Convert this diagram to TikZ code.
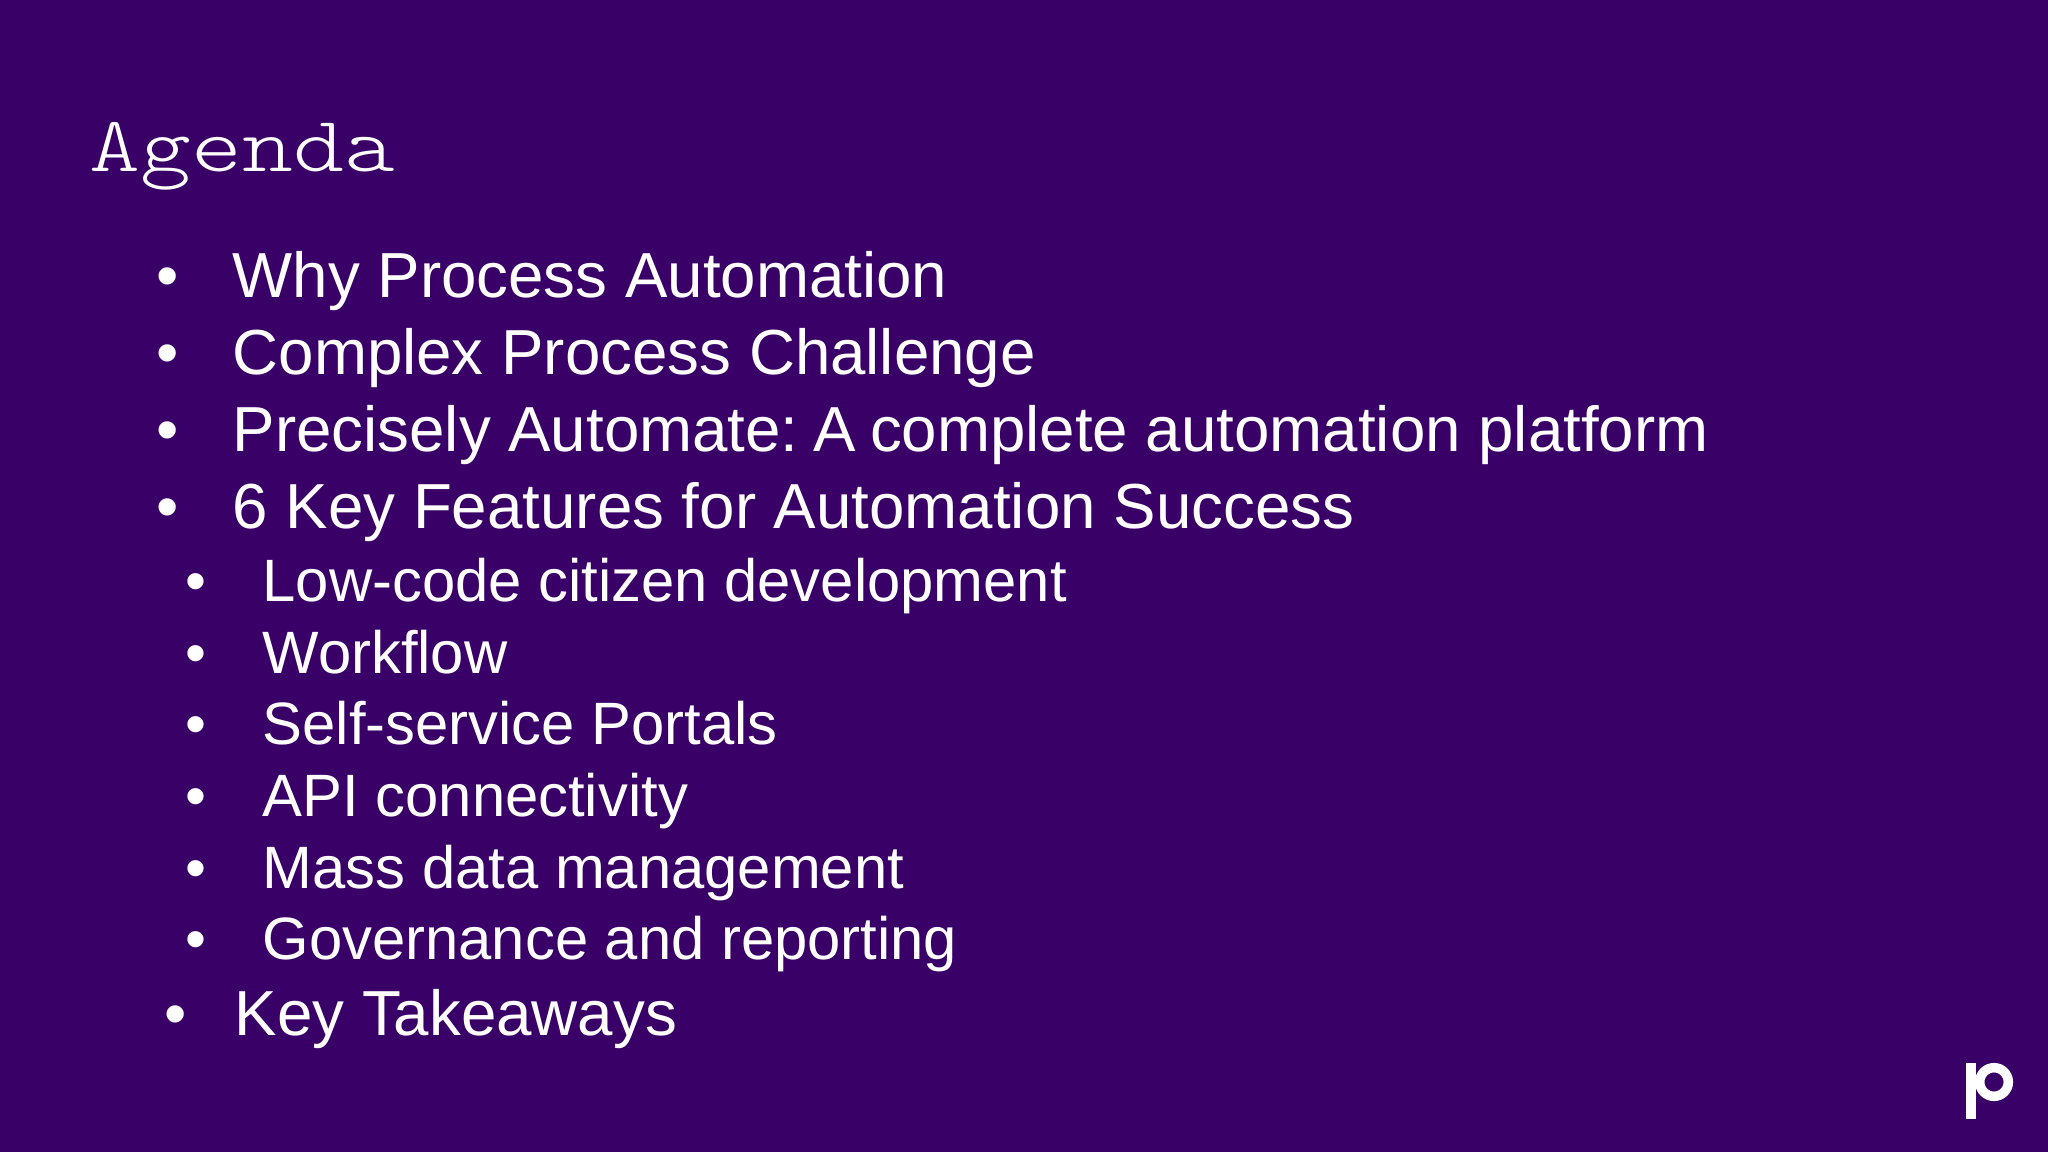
\documentclass[tikz,border=0pt]{standalone}
\usepackage{fontspec}
\setmainfont{Liberation Sans}
\definecolor{agendabg}{HTML}{390067}
\tikzset{
  title/.style={anchor=base west,inner sep=0pt,text=white,xscale=1.23,transform shape,font=\fontsize{22.4pt}{26pt}\fontseries{l}\ttfamily\selectfont},
  item/.style={anchor=base west,inner sep=0pt,text=white,font=\fontsize{18.1pt}{20pt}\selectfont},
  subitem/.style={anchor=base west,inner sep=0pt,text=white,font=\fontsize{17pt}{19pt}\selectfont},
}
\begin{document}
\begin{tikzpicture}[x=0.01cm,y=-0.01cm]
\useasboundingbox (0,0) rectangle (2048,1152);
\fill[agendabg] (0,0) rectangle (2048,1152);

\draw (89,172) node[title] (agenda) {Agenda};

\draw (156,298) node[item] (b1) {•};
\draw (232,298) node[item] (why) {Why Process Automation};
\draw (156,375) node[item] (b2) {•};
\draw (232,375) node[item] (complex) {Complex Process Challenge};
\draw (156,452) node[item] (b3) {•};
\draw (232,452) node[item] (precisely) {Precisely Automate:\kern-2.6pt{} A\kern-0.9pt{} complete automation platform};
\draw (156,529) node[item] (b4) {•};
\draw (232,529) node[item] (features) {6 Key Features for Automation Success};

\draw (185,601) node[subitem] (b5) {•};
\draw (262,601) node[subitem] (lowcode) {Low-code citizen development};
\draw (185,673) node[subitem] (b6) {•};
\draw (262,673) node[subitem] (workflow) {Workflow};
\draw (185,744) node[subitem] (b7) {•};
\draw (262,744) node[subitem] (portals) {Self-service Portals};
\draw (185,816) node[subitem] (b8) {•};
\draw (262,816) node[subitem] (api) {API connectivity};
\draw (185,888) node[subitem] (b9) {•};
\draw (262,888) node[subitem] (mass) {Mass data management};
\draw (185,959) node[subitem] (b10) {•};
\draw (262,959) node[subitem] (governance) {Governance and reporting};

\draw (164,1035) node[item] (b11) {•};
\draw (234,1035) node[item] (takeaways) {Key Takeaways};

% logo
\fill[white] (1966,1063) rectangle (1976,1119);
\draw[white,line width=2.7pt] (1994,1082) circle (1.43mm);
\end{tikzpicture}
\end{document}
